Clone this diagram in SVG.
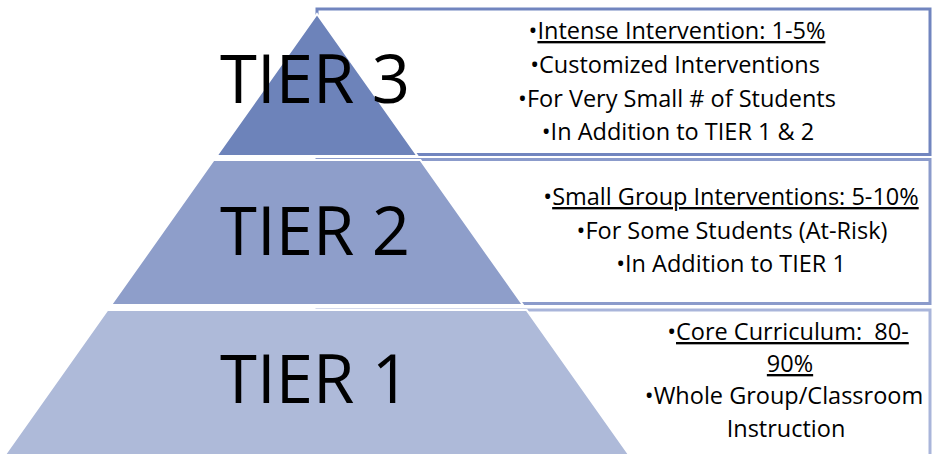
<svg xmlns="http://www.w3.org/2000/svg" width="936" height="454" viewBox="0 0 936 454">
<style>
.box{fill:#fff;stroke-width:3}
.piece{stroke:#fff;stroke-width:2}
.big{font-family:"Open Sans","Liberation Sans",sans-serif;font-size:67px;fill:#000;text-anchor:middle}
.txt{font-family:"Open Sans","Liberation Sans",sans-serif;font-size:23.5px;fill:#000;text-anchor:middle;white-space:pre}
.u{text-decoration:underline}
</style>
<rect width="936" height="454" fill="#fff"/>
<g id="tier3">
  <rect class="box" x="317" y="9" width="613" height="145.5" stroke="#7185bf"/>
  <path class="piece" d="M317,14 L417.5,156 L216.5,156 Z" fill="#6d83ba"/>
  <text class="big" x="315" y="103">TIER 3</text>
  <text class="txt" x="677" y="39">•<tspan class="u">Intense Intervention: 1-5%</tspan></text>
  <text class="txt" x="675" y="73">•Customized Interventions</text>
  <text class="txt" x="677" y="107">•For Very Small # of Students</text>
  <text class="txt" x="678" y="140">•In Addition to TIER 1 &amp; 2</text>
</g>
<g id="tier2">
  <rect class="box" x="317" y="159.5" width="613" height="144" stroke="#8b9bcb"/>
  <path class="piece" d="M213.6,160 L420.4,160 L523,305 L111,305 Z" fill="#8e9eca"/>
  <text class="big" x="315" y="255">TIER 2</text>
  <text class="txt" x="731" y="205">•<tspan class="u">Small Group Interventions: 5-10%</tspan></text>
  <text class="txt" x="732" y="239">•For Some Students (At-Risk)</text>
  <text class="txt" x="731" y="272">•In Addition to TIER 1</text>
</g>
<g id="tier1">
  <rect class="box" x="317" y="310" width="613" height="160" stroke="#a9b5da"/>
  <path class="piece" d="M107.4,310 L526.6,310 L632.8,460 L1.2,460 Z" fill="#aebad9"/>
  <text class="big" x="315" y="403">TIER 1</text>
  <text class="txt" x="788" y="340" xml:space="preserve">•<tspan class="u">Core Curriculum:  80-</tspan></text>
  <text class="txt" x="790" y="372"><tspan class="u">90%</tspan></text>
  <text class="txt" x="784" y="404">•Whole Group/Classroom</text>
  <text class="txt" x="786" y="437">Instruction</text>
</g>
</svg>
